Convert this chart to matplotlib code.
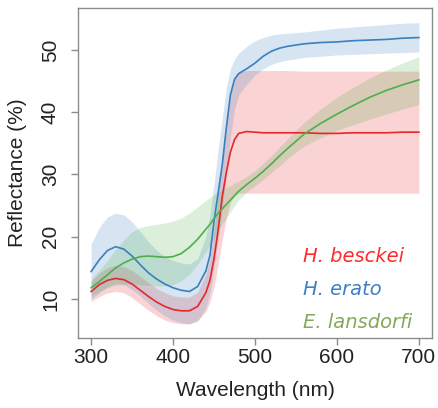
import matplotlib
matplotlib.use("Agg")
import matplotlib.pyplot as plt

wavelength = [300, 310, 320, 330, 340, 350, 360, 370, 380, 390, 400, 410, 420, 430, 440,
              445, 450, 455, 460, 465, 470, 475, 480, 490, 500,
              510, 520, 530, 540, 560, 580, 600, 620, 640, 660, 680, 700]

besckei_mean = [11.2, 12.3, 13.0, 13.3, 13.1, 12.4, 11.4, 10.4, 9.5, 8.8, 8.3, 8.1, 8.1, 8.8, 11.0,
                13.0, 16.5, 21.0, 26.4, 30.3, 33.6, 35.6, 36.6, 36.9, 36.8,
                36.7, 36.7, 36.7, 36.7, 36.7, 36.6, 36.6, 36.7, 36.7, 36.7, 36.8, 36.8]
besckei_low = [9.6, 10.4, 11.0, 11.2, 11.0, 10.2, 9.2, 8.2, 7.3, 6.6, 6.2, 6.0, 6.0, 6.5, 8.0,
               9.5, 12.0, 15.5, 19.5, 23.0, 25.5, 26.6, 27.0, 27.0, 27.0,
               27.0, 27.0, 27.0, 27.0, 27.0, 27.0, 27.0, 27.0, 27.0, 27.0, 27.0, 27.0]
besckei_high = [12.8, 14.2, 15.0, 15.4, 15.2, 14.6, 13.6, 12.6, 11.7, 11.0, 10.5, 10.3, 10.3, 11.1, 14.0,
                16.5, 21.0, 26.5, 33.0, 38.5, 43.0, 45.5, 46.5, 46.7, 46.7,
                46.7, 46.7, 46.7, 46.7, 46.6, 46.6, 46.6, 46.6, 46.6, 46.6, 46.6, 46.6]

erato_mean = [14.4, 16.3, 17.8, 18.4, 18.0, 16.9, 15.5, 14.2, 13.2, 12.4, 11.8, 11.4, 11.2, 12.0, 14.5,
              17.0, 22.5, 27.0, 31.5, 37.5, 42.8, 45.3, 46.2, 47.0, 47.9,
              49.0, 49.8, 50.3, 50.6, 51.0, 51.2, 51.3, 51.5, 51.6, 51.7, 51.9, 52.0]
erato_low = [10.0, 11.0, 12.0, 12.5, 12.3, 11.5, 10.5, 9.3, 8.2, 7.3, 6.6, 6.2, 6.0, 6.5, 8.5,
             11.0, 15.0, 19.5, 24.5, 30.0, 36.0, 40.5, 42.8, 44.5, 46.0,
             47.0, 47.7, 48.1, 48.4, 48.8, 49.0, 49.2, 49.3, 49.4, 49.5, 49.6, 49.7]
erato_high = [18.8, 21.5, 23.2, 23.8, 23.5, 22.4, 20.8, 19.2, 17.8, 16.8, 16.2, 15.8, 15.6, 16.5, 20.0,
              23.5, 28.5, 34.0, 39.0, 44.0, 47.0, 48.5, 49.5, 50.6, 51.5,
              52.0, 52.4, 52.6, 52.7, 52.9, 53.2, 53.5, 53.7, 53.9, 54.1, 54.3, 54.4]

lansdorfi_mean = [11.8, 12.8, 13.9, 15.0, 15.8, 16.4, 16.8, 16.9, 16.8, 16.7, 16.8, 17.3, 18.3, 19.6, 21.2,
                  22.0, 22.9, 23.8, 24.5, 25.2, 25.9, 26.6, 27.3, 28.4, 29.4,
                  30.5, 31.7, 33.0, 34.2, 36.5, 38.2, 39.7, 41.1, 42.4, 43.5, 44.4, 45.2]
lansdorfi_low = [10.5, 11.2, 11.8, 12.2, 12.4, 12.4, 12.3, 12.2, 12.1, 12.1, 12.3, 12.9, 14.0, 15.6, 17.5,
                 18.6, 19.8, 21.0, 22.0, 23.0, 24.0, 25.0, 25.9, 27.2, 28.2,
                 29.2, 30.3, 31.4, 32.6, 34.6, 35.9, 37.1, 38.0, 38.9, 39.7, 40.5, 41.2]
lansdorfi_high = [13.2, 14.6, 16.2, 18.0, 19.5, 20.8, 21.5, 21.8, 22.0, 22.2, 22.5, 23.0, 23.8, 24.8, 25.8,
                  26.3, 26.8, 27.2, 27.5, 28.0, 28.2, 28.6, 28.9, 29.7, 30.6,
                  31.8, 33.0, 34.4, 35.8, 38.4, 40.5, 42.4, 44.0, 45.5, 46.8, 47.9, 48.9]

species = ["H. besckei", "H. erato", "E. lansdorfi"]
line_colors = ["#E8262A", "#3A7FBF", "#4DAF4A"]
text_colors = ["#FF2A2A", "#3D80C6", "#86A85A"]
x_ticks = [300, 400, 500, 600, 700]
y_ticks = [10, 20, 30, 40, 50]

fig = plt.figure(figsize=(4.38, 4.08), dpi=100)
ax = fig.add_axes([78/438, 1-338/408, (432-78)/438, (338-8)/408])

series = [(besckei_mean, besckei_low, besckei_high),
          (erato_mean, erato_low, erato_high),
          (lansdorfi_mean, lansdorfi_low, lansdorfi_high)]
for (m, lo, hi), c in zip(series, line_colors):
    ax.fill_between(wavelength, lo, hi, color=c, alpha=0.2, linewidth=0)
for (m, lo, hi), c in zip(series, line_colors):
    ax.plot(wavelength, m, color=c, lw=1.2)

ax.set_xlim(284, 716)
ax.set_ylim(3.73, 56.75)
ax.set_xticks(x_ticks)
ax.set_yticks(y_ticks)
font = "Liberation Sans"
for s in ax.spines.values():
    s.set_color("#8C8C8C")
    s.set_linewidth(1.0)
ax.tick_params(length=5, width=1.0, color="#8C8C8C", labelsize=15, labelcolor="#222222")
ax.tick_params(axis="x", pad=2)
ax.tick_params(axis="y", pad=8)
for lab in ax.get_xticklabels() + ax.get_yticklabels():
    lab.set_fontfamily(font)
for lab in ax.get_yticklabels():
    lab.set_rotation(90)
    lab.set_va("center")
ax.set_xlabel("Wavelength (nm)", fontsize=15, family=font, color="#222222", labelpad=10)
ax.set_ylabel("Reflectance (%)", fontsize=15, family=font, color="#222222", labelpad=10)

for i, (name, tc) in enumerate(zip(species, text_colors)):
    ax.text(0.637, 0.246 - i*0.1, name, transform=ax.transAxes, color=tc,
            fontsize=14, family="DejaVu Sans", style="italic", va="center", ha="left")

fig.savefig("out.png", dpi=100)
